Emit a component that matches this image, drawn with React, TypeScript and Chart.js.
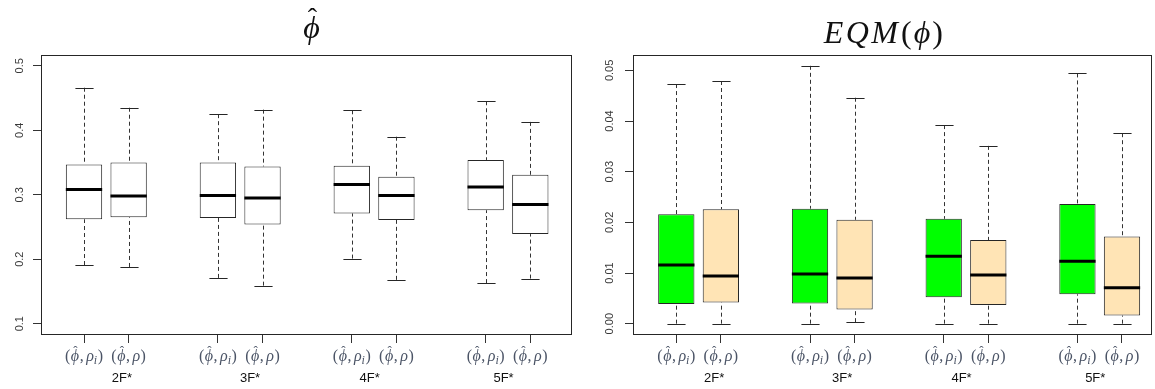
import React, { useEffect, useRef } from "react";
import { Chart, registerables } from "chart.js";

Chart.register(...registerables);

// ---------- data ----------
const groupLabels = ["2F*", "3F*", "4F*", "5F*"];
const groupLabelPositions = [1.85, 4.72, 7.4, 10.4];
const boxPositions = [1, 2, 4, 5, 7, 8, 10, 11];
const boxHasSubscript = [true, false, true, false, true, false, true, false];

// phi-hat panel (five-number summaries)
const phiHigh = [0.466, 0.435, 0.425, 0.432, 0.431, 0.39, 0.445, 0.413];
const phiQ3 = [0.347, 0.35, 0.35, 0.344, 0.345, 0.328, 0.354, 0.331];
const phiMedian = [0.308, 0.298, 0.299, 0.295, 0.316, 0.299, 0.312, 0.285];
const phiQ1 = [0.262, 0.265, 0.264, 0.254, 0.271, 0.261, 0.276, 0.239];
const phiLow = [0.191, 0.188, 0.171, 0.159, 0.201, 0.168, 0.163, 0.17];
const phiColors = ["#FFFFFF", "#FFFFFF", "#FFFFFF", "#FFFFFF", "#FFFFFF", "#FFFFFF", "#FFFFFF", "#FFFFFF"];
const phiTicks = [0.1, 0.2, 0.3, 0.4, 0.5];
const phiTickLabels = ["0.1", "0.2", "0.3", "0.4", "0.5"];
const phiLimits = [0.1, 0.5];

// EQM(phi) panel
const eqmHigh = [0.0473, 0.0479, 0.0509, 0.0446, 0.0392, 0.0351, 0.0494, 0.0376];
const eqmQ3 = [0.0216, 0.0226, 0.0227, 0.0205, 0.0207, 0.0165, 0.0236, 0.0172];
const eqmMedian = [0.0116, 0.0094, 0.0098, 0.009, 0.0133, 0.0096, 0.0123, 0.0071];
const eqmQ1 = [0.0039, 0.0042, 0.004, 0.0028, 0.0052, 0.0037, 0.0058, 0.0016];
const eqmLow = [0.0, 0.0, 0.0, 0.0003, 0.0, 0.0, 0.0, 0.0];
const eqmColors = ["#00FF00", "#FFE4B5", "#00FF00", "#FFE4B5", "#00FF00", "#FFE4B5", "#00FF00", "#FFE4B5"];
const eqmTicks = [0, 0.01, 0.02, 0.03, 0.04, 0.05];
const eqmTickLabels = ["0.00", "0.01", "0.02", "0.03", "0.04", "0.05"];

// ---------- styling ----------
const SERIF = '"Liberation Serif", "DejaVu Serif", serif';
const SANS = '"Liberation Sans", Arial, sans-serif';
const LINE = "#262626";
const TICK_TEXT = "#3a3a3a";
const MATH_TEXT = "#4b5466";

type Spec = {
  title: "phi" | "eqm";
  low: number[];
  q1: number[];
  med: number[];
  q3: number[];
  high: number[];
  colors: string[];
  yTicks: number[];
  yTickLabels: string[];
  yMin: number;
  yMax: number;
  xMin: number;
  xMax: number;
  yAxisWidth: number;
  padRight: number;
  yLabelOffset: number;
  titleShift: number;
};

function extendRange(lo: number, hi: number): [number, number] {
  const e = (hi - lo) * 0.04;
  return [lo - e, hi + e];
}

function visualCenterShift(m: TextMetrics) {
  // offset from a left-aligned origin to the glyph's visual centre
  return (m.actualBoundingBoxRight - m.actualBoundingBoxLeft) / 2;
}

function drawHat(ctx: CanvasRenderingContext2D, cx: number, glyphTop: number, size: number, gap: number) {
  ctx.font = `${size}px ${SERIF}`;
  ctx.textAlign = "left";
  ctx.textBaseline = "alphabetic";
  const m = ctx.measureText("ˆ");
  const base = glyphTop - gap - m.actualBoundingBoxDescent;
  ctx.fillText("ˆ", cx - visualCenterShift(m), base);
}

function drawMathLabel(ctx: CanvasRenderingContext2D, cx: number, baseline: number, sub: boolean) {
  const fs = 16;
  const up = `${fs}px ${SERIF}`;
  const it = `italic ${fs}px ${SERIF}`;
  const sb = `italic ${Math.round(fs * 0.72)}px ${SERIF}`;
  const parts: { t: string; f: string; dy: number; hat?: boolean; after?: number }[] = [
    { t: "(", f: up, dy: 0, after: 0.5 },
    { t: "ϕ", f: it, dy: 0, hat: true, after: 0.5 },
    { t: ",", f: up, dy: 0, after: 2.5 },
    { t: "ρ", f: it, dy: 0, after: sub ? 0 : 0.5 },
  ];
  if (sub) parts.push({ t: "i", f: sb, dy: 3, after: 0.5 });
  parts.push({ t: ")", f: up, dy: 0 });
  ctx.textAlign = "left";
  ctx.textBaseline = "alphabetic";
  let total = 0;
  const widths = parts.map((p) => {
    ctx.font = p.f;
    const w = ctx.measureText(p.t).width + (p.after || 0);
    total += w;
    return w;
  });
  let x = cx - total / 2;
  parts.forEach((p, i) => {
    ctx.fillStyle = MATH_TEXT;
    ctx.textAlign = "left";
    ctx.textBaseline = "alphabetic";
    ctx.font = p.f;
    ctx.fillText(p.t, x, baseline + p.dy);
    if (p.hat) {
      const m = ctx.measureText(p.t);
      const vc = x + visualCenterShift(m) + 1;
      const top = baseline - m.actualBoundingBoxAscent;
      drawHat(ctx, vc, top, 13, 1);
    }
    x += widths[i];
  });
}

function makePlugin(s: Spec) {
  return {
    id: "rbox_" + s.title,
    beforeDatasetsDraw(chart: any) {
      const ctx: CanvasRenderingContext2D = chart.ctx;
      const y = chart.scales.y;
      const meta = chart.getDatasetMeta(0);
      ctx.save();
      meta.data.forEach((bar: any, i: number) => {
        const x = Math.round(bar.x) + 0.5;
        const cap = bar.width / 4;
        const yHi = y.getPixelForValue(s.high[i]);
        const yQ3 = y.getPixelForValue(s.q3[i]);
        const yQ1 = y.getPixelForValue(s.q1[i]);
        const yLo = y.getPixelForValue(s.low[i]);
        ctx.lineWidth = 1;
        ctx.strokeStyle = "#333333";
        ctx.setLineDash([4, 3]);
        ctx.beginPath();
        ctx.moveTo(x, yHi);
        ctx.lineTo(x, yQ3);
        ctx.moveTo(x, yLo);
        ctx.lineTo(x, yQ1);
        ctx.stroke();
        ctx.setLineDash([]);
        ctx.strokeStyle = LINE;
        ctx.beginPath();
        const h = Math.round(yHi) + 0.5;
        const l = Math.round(yLo) + 0.5;
        ctx.moveTo(x - cap, h);
        ctx.lineTo(x + cap, h);
        ctx.moveTo(x - cap, l);
        ctx.lineTo(x + cap, l);
        ctx.stroke();
      });
      ctx.restore();
    },
    afterDatasetsDraw(chart: any) {
      const ctx: CanvasRenderingContext2D = chart.ctx;
      const y = chart.scales.y;
      const meta = chart.getDatasetMeta(0);
      const a = chart.chartArea;
      ctx.save();
      meta.data.forEach((bar: any, i: number) => {
        const ym = y.getPixelForValue(s.med[i]);
        ctx.strokeStyle = "#000000";
        ctx.lineWidth = 3;
        ctx.beginPath();
        ctx.moveTo(bar.x - bar.width / 2, ym);
        ctx.lineTo(bar.x + bar.width / 2, ym);
        ctx.stroke();
      });
      ctx.strokeStyle = LINE;
      ctx.lineWidth = 1;
      const L = Math.floor(a.left) + 0.5;
      const T = Math.floor(a.top) + 0.5;
      const R = Math.floor(a.right) + 0.5;
      const B = Math.floor(a.bottom) + 0.5;
      ctx.strokeRect(L, T, R - L, B - T);
      ctx.restore();
    },
    afterDraw(chart: any) {
      const ctx: CanvasRenderingContext2D = chart.ctx;
      const a = chart.chartArea;
      const xs = chart.scales.x;
      const ys = chart.scales.y;
      ctx.save();
      // y tick labels (rotated, R style)
      ctx.fillStyle = TICK_TEXT;
      ctx.font = `11px ${SANS}`;
      ctx.textAlign = "center";
      ctx.textBaseline = "middle";
      s.yTicks.forEach((v, i) => {
        const py = ys.getPixelForValue(v);
        ctx.save();
        ctx.translate(a.left - s.yLabelOffset, py);
        ctx.rotate(-Math.PI / 2);
        ctx.fillText(s.yTickLabels[i], 0, 0);
        ctx.restore();
      });
      // x tick labels
      boxPositions.forEach((p, i) => {
        drawMathLabel(ctx, xs.getPixelForValue(p), 361, boxHasSubscript[i]);
      });
      // group labels
      ctx.fillStyle = "#111111";
      ctx.font = `13px ${SANS}`;
      ctx.textAlign = "center";
      ctx.textBaseline = "middle";
      groupLabelPositions.forEach((p, i) => {
        ctx.fillText(groupLabels[i], xs.getPixelForValue(p), 378.5);
      });
      // title
      const cx = (a.left + a.right) / 2 + s.titleShift;
      ctx.fillStyle = "#111111";
      ctx.textAlign = "left";
      ctx.textBaseline = "alphabetic";
      if (s.title === "phi") {
        ctx.font = `italic 32px ${SERIF}`;
        const m = ctx.measureText("ϕ");
        const base = 45 - m.actualBoundingBoxDescent;
        ctx.fillText("ϕ", cx - visualCenterShift(m), base);
        const top = base - m.actualBoundingBoxAscent;
        drawHat(ctx, cx + 1.5, top, 28, 4);
      } else {
        const it = `italic 32px ${SERIF}`;
        const up = `32px ${SERIF}`;
        const parts = [
          { t: "E", f: it, after: 2.5 },
          { t: "Q", f: it, after: 2.5 },
          { t: "M", f: it, after: 3 },
          { t: "(", f: up, after: 2 },
          { t: "ϕ", f: it, after: 2 },
          { t: ")", f: up, after: 0 },
        ];
        let total = 0;
        const w = parts.map((p) => {
          ctx.font = p.f;
          const ww = ctx.measureText(p.t).width + p.after;
          total += ww;
          return ww;
        });
        let x = cx - total / 2;
        parts.forEach((p, i) => {
          ctx.font = p.f;
          ctx.fillText(p.t, x, 43);
          x += w[i];
        });
      }
      ctx.restore();
    },
  };
}

function makeConfig(s: Spec): any {
  return {
    type: "bar",
    data: {
      datasets: [
        {
          data: boxPositions.map((p, i) => ({ x: p, y: [s.q1[i], s.q3[i]] })),
          backgroundColor: s.colors,
          borderColor: LINE,
          borderWidth: 1,
          borderSkipped: false,
          barPercentage: 0.814,
          categoryPercentage: 1,
        },
      ],
    },
    options: {
      animation: false,
      responsive: false,
      events: [],
      layout: { padding: { top: 55.5, right: s.padRight, bottom: 0, left: 0 } },
      plugins: {
        legend: { display: false },
        tooltip: { enabled: false },
        title: { display: false },
      },
      scales: {
        x: {
          type: "linear",
          min: s.xMin,
          max: s.xMax,
          offset: false,
          bounds: "data",
          afterBuildTicks: (sc: any) => {
            sc.ticks = boxPositions.map((v) => ({ value: v }));
          },
          afterFit: (sc: any) => {
            sc.height = 55;
          },
          ticks: { display: false },
          grid: { offset: false, drawOnChartArea: false, drawTicks: true, tickLength: 9, color: "#333333", lineWidth: 1 },
          border: { display: false },
        },
        y: {
          type: "linear",
          min: s.yMin,
          max: s.yMax,
          bounds: "data",
          beginAtZero: false,
          afterBuildTicks: (sc: any) => {
            sc.ticks = s.yTicks.map((v) => ({ value: v }));
          },
          afterFit: (sc: any) => {
            sc.width = s.yAxisWidth;
          },
          ticks: { display: false },
          grid: { drawOnChartArea: false, drawTicks: true, tickLength: 8, color: "#333333", lineWidth: 1 },
          border: { display: false },
        },
      },
    },
    plugins: [makePlugin(s)],
  };
}

const phiRange = extendRange(phiLimits[0], phiLimits[1]);
const eqmRange = extendRange(Math.min(...eqmLow), Math.max(...eqmHigh));

const leftSpec: Spec = {
  title: "phi",
  low: phiLow,
  q1: phiQ1,
  med: phiMedian,
  q3: phiQ3,
  high: phiHigh,
  colors: phiColors,
  yTicks: phiTicks,
  yTickLabels: phiTickLabels,
  yMin: phiRange[0],
  yMax: phiRange[1],
  xMin: 0.0365,
  xMax: 11.923,
  yAxisWidth: 41,
  padRight: 8.5,
  yLabelOffset: 21,
  titleShift: 5,
};

const rightSpec: Spec = {
  title: "eqm",
  low: eqmLow,
  q1: eqmQ1,
  med: eqmMedian,
  q3: eqmQ3,
  high: eqmHigh,
  colors: eqmColors,
  yTicks: eqmTicks,
  yTickLabels: eqmTickLabels,
  yMin: eqmRange[0],
  yMax: eqmRange[1],
  xMin: 0.0285,
  xMax: 11.662,
  yAxisWidth: 53,
  padRight: 3.5,
  yLabelOffset: 23,
  titleShift: -9,
};

export default function App() {
  const leftRef = useRef<HTMLCanvasElement>(null);
  const rightRef = useRef<HTMLCanvasElement>(null);
  useEffect(() => {
    const a = new Chart(leftRef.current as HTMLCanvasElement, makeConfig(leftSpec));
    const b = new Chart(rightRef.current as HTMLCanvasElement, makeConfig(rightSpec));
    return () => {
      a.destroy();
      b.destroy();
    };
  }, []);
  return (
    <div style={{ position: "fixed", left: 0, top: 0, width: 1155, height: 389, background: "#ffffff" }}>
      <canvas ref={leftRef} width={580} height={389} style={{ position: "absolute", left: 0, top: 0, display: "block" }} />
      <canvas ref={rightRef} width={575} height={389} style={{ position: "absolute", left: 580, top: 0, display: "block" }} />
    </div>
  );
}
